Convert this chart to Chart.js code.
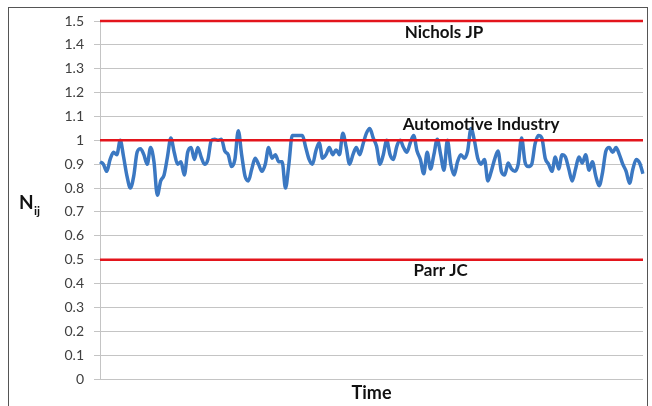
<!DOCTYPE html>
<html>
<head>
<meta charset="utf-8">
<script src="https://cdn.jsdelivr.net/npm/chart.js@4"></script>
<style>
  html, body { margin: 0; padding: 0; background: #fff; }
  #wrap { position: relative; width: 652px; height: 406px; }
  #frame {
    position: absolute; left: 8px; top: 7px; width: 640px; height: 405px;
    border: 1.5px solid #555; box-sizing: border-box; pointer-events: none;
  }
</style>
</head>
<body>
<div id="wrap">
  <canvas id="chart" width="652" height="406"></canvas>
  <div id="frame"></div>
</div>
<script>
// Nij over time
const nij = [
  0.91, 0.90, 0.87, 0.92, 0.95, 0.94, 1.00, 0.93, 0.85, 0.80, 0.85, 0.95, 0.965,
  0.94, 0.90, 0.97, 0.91, 0.77, 0.83, 0.855, 0.93, 1.01, 0.95, 0.90, 0.91, 0.855,
  0.95, 0.97, 0.92, 0.97, 0.93, 0.90, 0.92, 1.00, 1.005, 1.00, 1.005, 0.955, 0.94,
  0.89, 0.92, 1.04, 0.94, 0.85, 0.83, 0.88, 0.925, 0.90, 0.87, 0.90, 0.97, 0.925,
  0.94, 0.91, 0.91, 0.80, 0.90, 1.02, 1.02, 1.02, 1.02, 0.97, 0.92, 0.90, 0.955,
  0.99, 0.925, 0.94, 0.97, 0.94, 0.96, 0.94, 1.03, 0.97, 0.90, 0.94, 0.97, 0.94,
  0.985, 1.03, 1.05, 1.01,
  0.975, 0.90, 0.94, 1.00, 0.94, 0.92, 0.975, 1.00, 0.97, 0.95, 0.99, 1.02, 0.955,
  0.92, 0.86, 0.95, 0.88, 0.94, 1.005, 0.94, 0.875, 1.00, 0.90, 0.855, 0.91,
  0.94, 0.925, 0.955, 1.05, 1.00, 0.925, 0.90, 0.92, 0.83, 0.87, 0.92, 0.955, 0.87,
  0.855, 0.905, 0.88, 0.87, 0.90, 1.01, 0.91, 0.89, 0.90, 0.985, 1.02, 1.01, 0.925,
  0.90, 0.87, 0.93, 0.88, 0.94, 0.93, 0.88, 0.83, 0.88, 0.93, 0.905, 0.94, 0.875,
  0.91, 0.85, 0.81, 0.865, 0.955, 0.97, 0.95, 0.97, 0.94, 0.90, 0.87, 0.82, 0.88,
  0.92, 0.905, 0.86
];
const timeSteps = nij.map((_, i) => i + 1);

// reference levels and their captions
const refLevels = [1.5, 1.0, 0.5];
const refNames = ["Nichols JP", "Automotive Industry", "Parr JC"];
const refLabelY = [1.45, 1.065, 0.455];
const refLabelAt = [102, 113, 101]; // time step the caption is centred on

const yMin = 0, yMax = 1.5, yStep = 0.1;

const FONT = "Lato, 'Open Sans', sans-serif";

const refSets = refLevels.map((lvl) => ({
  data: nij.map(() => lvl),
  borderColor: "#e3151c",
  borderWidth: 2.5,
  pointRadius: 0,
  tension: 0,
  clip: 4,
}));

const textPlugin = {
  id: "texts",
  afterDraw(chart) {
    const { ctx, chartArea, scales } = chart;
    ctx.save();
    ctx.fillStyle = "#111";
    ctx.textAlign = "center";
    ctx.textBaseline = "middle";
    ctx.font = "bold 17px " + FONT;
    refNames.forEach((name, i) => {
      ctx.fillText(name, scales.x.getPixelForValue(refLabelAt[i]), scales.y.getPixelForValue(refLabelY[i]));
    });

    // axis titles
    ctx.font = "bold 18px " + FONT;
    ctx.fillText("Time", (chartArea.left + chartArea.right) / 2, 393);
    ctx.textAlign = "left";
    ctx.font = "bold 19px " + FONT;
    ctx.fillText("N", 19, 203);
    ctx.font = "bold 12px " + FONT;
    ctx.fillText("ij", 34, 211);
    ctx.restore();
  },
};

new Chart(document.getElementById("chart"), {
  type: "line",
  data: {
    labels: timeSteps,
    datasets: [
      ...refSets,
      {
        data: nij,
        borderColor: "#3b78c2",
        borderWidth: 3.5,
        pointRadius: 0,
        tension: 0.4,
        cubicInterpolationMode: "monotone",
      },
    ],
  },
  options: {
    responsive: false,
    animation: false,
    layout: { padding: { top: 21, right: 9, bottom: 27, left: 0 } },
    plugins: { legend: { display: false }, tooltip: { enabled: false } },
    scales: {
      x: {
        ticks: { display: false },
        grid: { display: false },
        border: { display: false },
        afterFit: (s) => { s.height = 0; },
      },
      y: {
        min: yMin,
        max: yMax,
        ticks: {
          stepSize: yStep,
          padding: 10,
          color: "#404040",
          font: { family: FONT, size: 14 },
          callback: (v) => (Math.round(v * 10) / 10).toString(),
        },
        grid: { color: "#c4c4c4", lineWidth: 1, tickLength: 6 },
        border: { color: "#c4c4c4", width: 1 },
        afterFit: (s) => { s.width = 100; },
      },
    },
  },
  plugins: [textPlugin],
});
</script>
</body>
</html>
